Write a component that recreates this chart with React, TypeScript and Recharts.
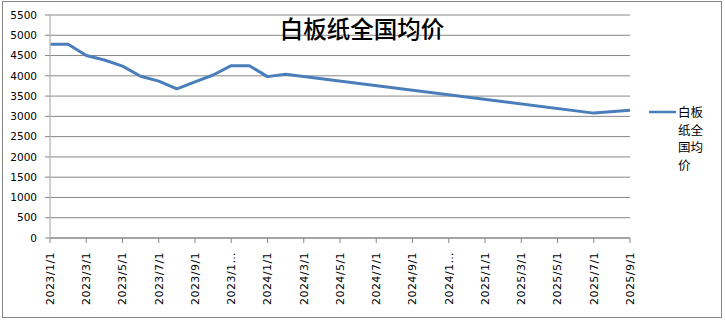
import { CartesianGrid, Legend, Line, LineChart, XAxis, YAxis } from "recharts";

const title = "白板纸全国均价";
const seriesName = "白板纸全国均价";

const dates = [
  "2023/1/1", "2023/2/1", "2023/3/1", "2023/4/1", "2023/5/1", "2023/6/1", "2023/7/1",
  "2023/8/1", "2023/9/1", "2023/10/1", "2023/11/1", "2023/12/1", "2024/1/1", "2024/2/1",
  "2025/7/1", "2025/9/1",
];
const prices = [
  4780, 4780, 4500, 4390, 4240, 3990, 3870,
  3680, 3850, 4020, 4250, 4250, 3980, 4040,
  3080, 3150,
];

const xTicks = [0, 2, 4, 6, 8, 10, 12, 14, 16, 18, 20, 22, 24, 26, 28, 30, 32];
const xTickLabels = [
  "2023/1/1", "2023/3/1", "2023/5/1", "2023/7/1", "2023/9/1", "2023/1…",
  "2024/1/1", "2024/3/1", "2024/5/1", "2024/7/1", "2024/9/1", "2024/1…",
  "2025/1/1", "2025/3/1", "2025/5/1", "2025/7/1", "2025/9/1",
];
const yTicks = [0, 500, 1000, 1500, 2000, 2500, 3000, 3500, 4000, 4500, 5000, 5500];

const monthIndex = (d: string) => {
  const [y, m] = d.split("/").map(Number);
  return (y - 2023) * 12 + (m - 1);
};

const data = dates.map((d, i) => ({ t: monthIndex(d), price: prices[i] }));

const LINE = "#4a7ebb";
const GRID = "#868686";

function DateTick({ x, y, payload }: any) {
  const i = xTicks.indexOf(payload.value);
  return (
    <g transform={`translate(${x},${y})`}>
      <text
        transform="rotate(-90)"
        textAnchor="end"
        dy="0.36em"
        fontSize={11}
        letterSpacing={0.45}
        fontFamily="DejaVu Sans"
        fill="#000"
      >
        {xTickLabels[i]}
      </text>
    </g>
  );
}

function SideLegend() {
  return (
    <div style={{ display: "flex", alignItems: "flex-start", fontFamily: "Noto Sans CJK SC" }}>
      <svg width={30} height={18}>
        <line x1={1} y1={9} x2={28} y2={9} stroke={LINE} strokeWidth={2.5} />
      </svg>
      <div style={{ width: 27, fontSize: 12.5, lineHeight: "17.5px", color: "#000", wordBreak: "break-all" }}>
        {seriesName}
      </div>
    </div>
  );
}

export default function App() {
  return (
    <div style={{ position: "absolute", left: 0, top: 0, width: 725, height: 320, background: "#fff" }}>
      <div
        style={{
          position: "absolute",
          left: 2,
          top: 1,
          width: 720,
          height: 317,
          boxSizing: "border-box",
          border: `1px solid ${GRID}`,
        }}
      />
      <LineChart width={725} height={320} data={data} margin={{ top: 15, right: 95, left: 0, bottom: 0 }}>
        <CartesianGrid vertical={false} stroke={GRID} />
        <XAxis
          dataKey="t"
          type="number"
          domain={[0, 32]}
          ticks={xTicks}
          interval={0}
          height={82}
          stroke={GRID}
          tickSize={5}
          tickMargin={9}
          tick={<DateTick />}
        />
        <YAxis
          type="number"
          domain={[0, 5500]}
          ticks={yTicks}
          interval={0}
          width={50}
          axisLine={{ stroke: "#c0c0c0", strokeWidth: 1.5 }}
          tickLine={{ stroke: GRID }}
          tickSize={5}
          tickMargin={8}
          tick={{ fontSize: 10.5, fill: "#000", fontFamily: "DejaVu Sans" }}
        />
        <Legend
          layout="vertical"
          align="center"
          verticalAlign="middle"
          wrapperStyle={{ left: 648, top: 103, width: 72 }}
          content={() => <SideLegend />}
        />
        <Line
          type="linear"
          dataKey="price"
          name={seriesName}
          stroke={LINE}
          strokeWidth={3}
          strokeLinejoin="round"
          dot={false}
          isAnimationActive={false}
        />
        <text x={362} y={28} textAnchor="middle" dominantBaseline="central" fontSize={23.5} fontWeight={500} fontFamily="Noto Sans CJK SC" fill="#000">
          {title}
        </text>
      </LineChart>
    </div>
  );
}
